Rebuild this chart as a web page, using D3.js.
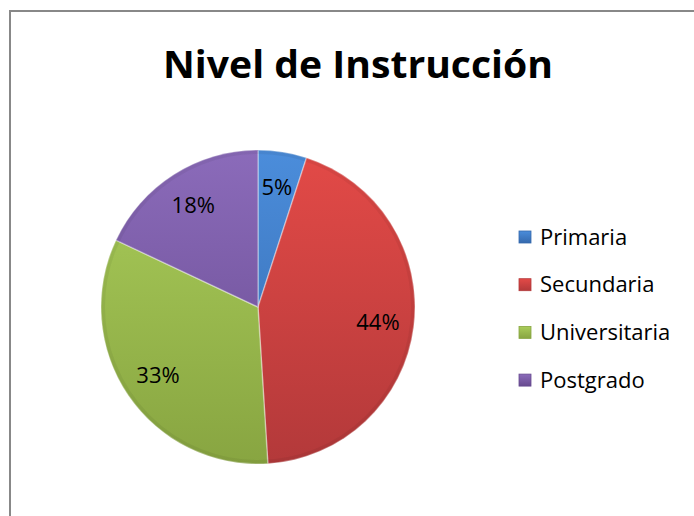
<!DOCTYPE html>
<meta charset="utf-8">
<head>
<style>
  body { margin: 0; background: #fff; }
  svg { display: block; }
  .lbl { font-family: "Open Sans", sans-serif; font-size: 22px; fill: #000; }
</style>
<script src="https://d3js.org/d3.v7.min.js"></script>
</head>
<body>
<script>
var categories = ["Primaria", "Secundaria", "Universitaria", "Postgrado"];
var values = [5, 44, 33, 18];
var topColors = ["#4b8ddb", "#e34a47", "#aacd5a", "#8b6bba"];
var bottomColors = ["#3569ad", "#b3393a", "#88a541", "#674a8f"];

var width = 694, height = 516,
    cx = 258, cy = 307, radius = 157;

var svg = d3.select("body").append("svg")
    .attr("width", width)
    .attr("height", height);

// chart frame (runs off the right and bottom edge)
svg.append("rect")
    .attr("x", 10).attr("y", 11)
    .attr("width", 720).attr("height", 540)
    .attr("fill", "#fff")
    .attr("stroke", "#888")
    .attr("stroke-width", 2);

svg.append("text")
    .attr("x", 358).attr("y", 78)
    .attr("text-anchor", "middle")
    .attr("textLength", 390)
    .attr("lengthAdjust", "spacingAndGlyphs")
    .style("font-family", "'Open Sans', sans-serif")
    .style("font-weight", "bold")
    .style("font-size", "38px")
    .text("Nivel de Instrucción");

var defs = svg.append("defs");
categories.forEach(function(c, i) {
  var g = defs.append("linearGradient")
      .attr("id", "grad" + i)
      .attr("gradientUnits", "userSpaceOnUse")
      .attr("x1", 0).attr("y1", -radius)
      .attr("x2", 0).attr("y2", radius);
  g.append("stop").attr("offset", "0%").attr("stop-color", topColors[i]);
  g.append("stop").attr("offset", "100%").attr("stop-color", bottomColors[i]);

  var lg = defs.append("linearGradient")
      .attr("id", "lg" + i)
      .attr("x1", 0).attr("y1", 0).attr("x2", 0).attr("y2", 1);
  lg.append("stop").attr("offset", "0%").attr("stop-color", topColors[i]);
  lg.append("stop").attr("offset", "100%").attr("stop-color", bottomColors[i]);
});

var pie = d3.pie().sort(null).value(function(d) { return d; });
var arcs = pie(values);
var arc = d3.arc().innerRadius(0).outerRadius(radius);
var labelArc = d3.arc().innerRadius(radius * 0.77).outerRadius(radius * 0.77);

var g = svg.append("g").attr("transform", "translate(" + cx + "," + cy + ")");

g.selectAll("path.slice")
    .data(arcs)
  .enter().append("path")
    .attr("class", "slice")
    .attr("d", arc)
    .attr("fill", function(d, i) { return "url(#grad" + i + ")"; })
    .attr("stroke", "rgba(255,255,255,0.35)")
    .attr("stroke-width", 1.5);

// soft bevel on the rim
g.append("circle")
    .attr("r", radius - 2)
    .attr("fill", "none")
    .attr("stroke", "rgba(0,0,0,0.05)")
    .attr("stroke-width", 4);

g.selectAll("text.lbl")
    .data(arcs)
  .enter().append("text")
    .attr("class", "lbl")
    .attr("transform", function(d) { return "translate(" + labelArc.centroid(d) + ")"; })
    .attr("text-anchor", "middle")
    .attr("dy", "0.35em")
    .text(function(d) { return d.data + "%"; });

// legend
var legend = svg.append("g").attr("transform", "translate(519,237)");
var rows = legend.selectAll("g")
    .data(categories)
  .enter().append("g")
    .attr("transform", function(d, i) { return "translate(0," + (i * 47.7) + ")"; });

rows.append("rect")
    .attr("x", 0).attr("y", -6)
    .attr("width", 12).attr("height", 12)
    .attr("fill", function(d, i) { return "url(#lg" + i + ")"; })
    .attr("stroke", function(d, i) { return bottomColors[i]; })
    .attr("stroke-width", 0.8);

rows.append("text")
    .attr("class", "lbl")
    .attr("x", 21)
    .attr("dy", "0.35em")
    .text(function(d) { return d; });
</script>
</body>
